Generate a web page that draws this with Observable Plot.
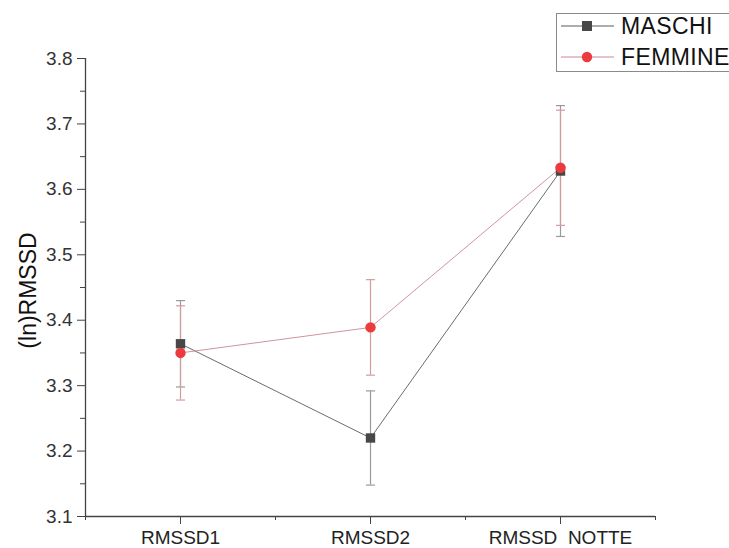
<!DOCTYPE html>
<html>
<head>
<meta charset="utf-8">
<script src="https://cdn.jsdelivr.net/npm/d3@7"></script>
<script src="https://cdn.jsdelivr.net/npm/@observablehq/plot@0.6"></script>
<style>
  html, body { margin: 0; padding: 0; background: #fff; }
  #wrap { position: relative; width: 729px; height: 548px; overflow: hidden; font-family: "Liberation Sans", Arial, sans-serif; }
  #legend { position: absolute; left: 556px; top: 13px; width: 200px; height: 59px; border: 1px solid #8a8a8a; background: #fff; box-sizing: border-box; }
  #legend .row { position: absolute; left: 0; height: 28px; display: flex; align-items: center; }
  #legend .row span { font-size: 23px; color: #111; margin-left: 6px; letter-spacing: 0.4px; }
  svg text { white-space: pre; }
</style>
</head>
<body>
<div id="wrap">
  <div id="chart"></div>
  <div id="legend"></div>
</div>
<script>
// ---- data ----
const categories = ["RMSSD1", "RMSSD2", "RMSSD  NOTTE"];
const seriesNames = ["MASCHI", "FEMMINE"];
const maschiMean = [3.364, 3.220, 3.628];
const maschiErr  = [0.066, 0.072, 0.100];
const femmineMean = [3.350, 3.389, 3.633];
const femmineErr  = [0.072, 0.073, 0.088];
const yTicks = [3.1, 3.2, 3.3, 3.4, 3.5, 3.6, 3.7, 3.8];
const yMinorTicks = [3.15, 3.25, 3.35, 3.45, 3.55, 3.65, 3.75];
const xTicks = [1, 2, 3];
const xMinorTicks = [0.5, 1.5, 2.5, 3.5];
const yLabel = "(ln)RMSSD";

// ---- styles ----
const colors = {
  MASCHI: { line: "#5a5a5a", dot: "#474747", err: "#9a9a9a" },
  FEMMINE: { line: "#c98891", dot: "#ec3b3f", err: "#d39aa1" }
};

const maschi = categories.map((c, i) => ({ x: i + 1, cat: c, y: maschiMean[i], e: maschiErr[i] }));
const femmine = categories.map((c, i) => ({ x: i + 1, cat: c, y: femmineMean[i], e: femmineErr[i] }));

const capSymbol = {
  draw(context, size) {
    const w = Math.sqrt(size / Math.PI);
    context.moveTo(-w, 0);
    context.lineTo(w, 0);
  }
};

function errMarks(data, col) {
  const caps = data.flatMap(d => [{ x: d.x, y: d.y - d.e }, { x: d.x, y: d.y + d.e }]);
  return [
    Plot.ruleX(data, { x: "x", y1: d => d.y - d.e, y2: d => d.y + d.e, stroke: col, strokeWidth: 1.2 }),
    Plot.dot(caps, { x: "x", y: "y", symbol: capSymbol, r: 4.5, stroke: col, strokeWidth: 1.2, fill: "none" })
  ];
}

const plot = Plot.plot({
  width: 729,
  height: 548,
  marginLeft: 85,
  marginRight: 74,
  marginTop: 58,
  marginBottom: 32,
  style: { fontFamily: "'Liberation Sans', Arial, sans-serif", color: "#222", background: "#fff" },
  x: { type: "linear", domain: [0.5, 3.5] },
  y: { domain: [3.1, 3.8] },
  marks: [
    Plot.axisY(yTicks, { tickSize: 8, tickPadding: 5, fontSize: 19, tickFormat: d => d.toFixed(1), label: null, stroke: "#444", fill: "#333" }),
    Plot.axisY(yMinorTicks, { tickSize: 5, tickFormat: () => "", label: null, stroke: "#444" }),
    Plot.axisX(xTicks, { tickSize: 8, tickPadding: 6, fontSize: 19, tickFormat: i => categories[i - 1], label: null, stroke: "#444", fill: "#222" }),
    Plot.axisX(xMinorTicks, { tickSize: 4, tickFormat: () => "", label: null, stroke: "#444" }),
    Plot.ruleX([0.5], { stroke: "#444", strokeWidth: 1.3 }),
    Plot.ruleY([3.1], { stroke: "#444", strokeWidth: 1.3 }),
    Plot.text([yLabel], { frameAnchor: "left", textAnchor: "middle", rotate: -90, dx: -57, dy: 3, fontSize: 23, fill: "#111" }),
    ...errMarks(maschi, colors.MASCHI.err),
    ...errMarks(femmine, colors.FEMMINE.err),
    Plot.line(maschi, { x: "x", y: "y", stroke: colors.MASCHI.line, strokeWidth: 0.9 }),
    Plot.line(femmine, { x: "x", y: "y", stroke: colors.FEMMINE.line, strokeWidth: 0.9 }),
    Plot.dot(maschi, { x: "x", y: "y", symbol: "square", r: 5.3, fill: colors.MASCHI.dot, stroke: "none" }),
    Plot.dot(femmine, { x: "x", y: "y", symbol: "circle", r: 5.2, fill: colors.FEMMINE.dot, stroke: "none" })
  ]
});
document.getElementById("chart").appendChild(plot);

// ---- legend ----
const legend = document.getElementById("legend");
seriesNames.forEach((name, i) => {
  const row = document.createElement("div");
  row.className = "row";
  row.style.top = (i === 0 ? -2 : 29) + "px";
  const sym = name === "MASCHI"
    ? `<rect x="25" y="9" width="10" height="10" fill="${colors[name].dot}"/>`
    : `<circle cx="30" cy="14" r="5.2" fill="${colors[name].dot}"/>`;
  row.innerHTML = `<svg width="58" height="28" style="display:block"><line x1="4" x2="57" y1="14" y2="14" stroke="${colors[name].line}" stroke-width="1"/>${sym}</svg><span>${name}</span>`;
  legend.appendChild(row);
});
</script>
</body>
</html>
